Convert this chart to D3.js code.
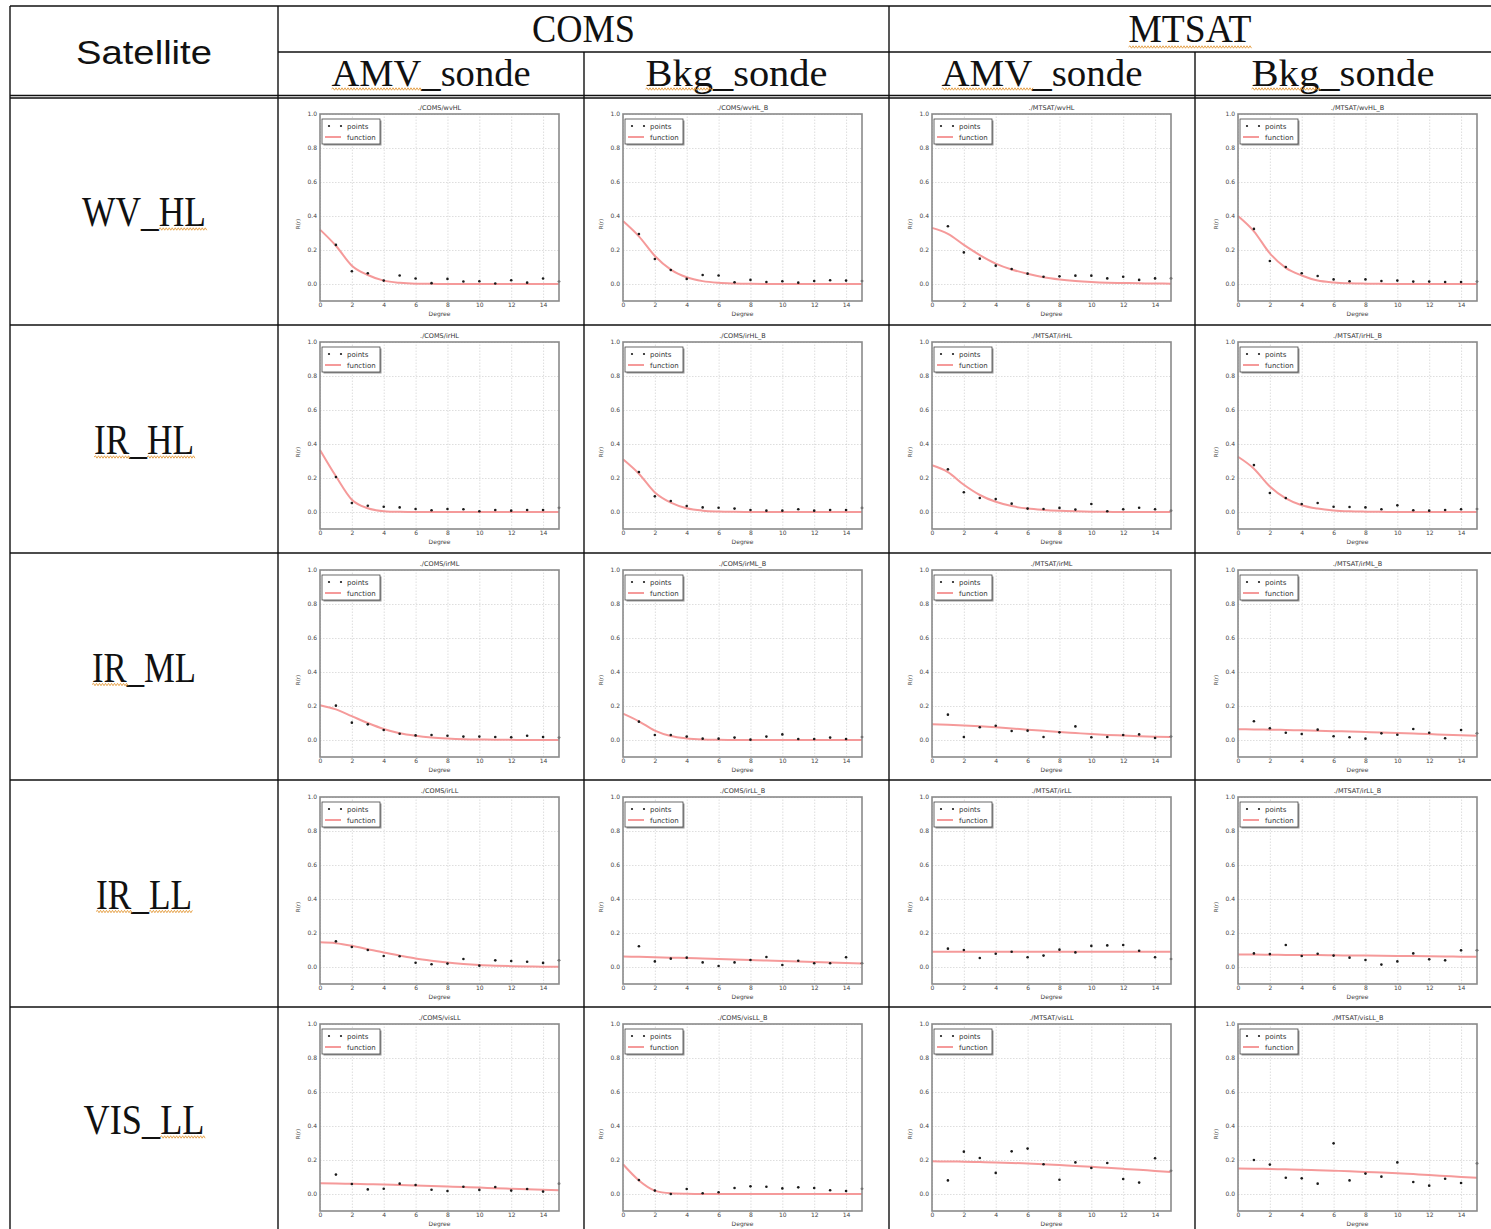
<!DOCTYPE html>
<html>
<head>
<meta charset="utf-8">
<script src="https://cdn.jsdelivr.net/npm/d3@7/dist/d3.min.js"></script>
<style>
  body { margin: 0; background: #fff; }
</style>
</head>
<body>
<div id="table-view"></div>
<script>
const WIDTH = 1491
const HEIGHT = 1229

const satellites = ["COMS", "MTSAT"]
const sources = ["AMV_sonde", "Bkg_sonde"]
const channels = ["WV_HL", "IR_HL", "IR_ML", "IR_LL", "VIS_LL"]
const xTicks = [0, 2, 4, 6, 8, 10, 12, 14]
const yTicks = [0.0, 0.2, 0.4, 0.6, 0.8, 1.0]
const pointDegrees = [1, 2, 3, 4, 5, 6, 7, 8, 9, 10, 11, 12, 13, 14, 15]
const fnDegrees = [0, 1, 2, 3, 4, 5, 6, 7, 8, 9, 10, 11, 12, 13, 14, 15]

// points (degree 1..15) and fitted function (degree 0..15)
const comsWvHL = [0.23, 0.075, 0.063, 0.02, 0.05, 0.032, 0.005, 0.03, 0.015, 0.016, 0.003, 0.022, 0.008, 0.032, 0.015]
const comsWvHLFn = [0.32, 0.225, 0.108, 0.053, 0.02, 0.007, 0.002, 0.001, 0, 0, 0, 0, 0, 0, 0, 0]
const comsWvHLB = [0.294, 0.147, 0.082, 0.03, 0.053, 0.05, 0.01, 0.024, 0.012, 0.016, 0.008, 0.018, 0.022, 0.02, 0.018]
const comsWvHLBFn = [0.37, 0.28, 0.165, 0.085, 0.04, 0.017, 0.007, 0.003, 0.001, 0, 0, 0, 0, 0, 0, 0]
const mtsatWvHL = [0.34, 0.186, 0.149, 0.108, 0.088, 0.061, 0.043, 0.045, 0.049, 0.049, 0.033, 0.043, 0.024, 0.033, 0.033]
const mtsatWvHLFn = [0.33, 0.295, 0.23, 0.17, 0.12, 0.085, 0.06, 0.04, 0.027, 0.018, 0.012, 0.008, 0.006, 0.004, 0.003, 0.002]
const mtsatWvHLB = [0.324, 0.135, 0.1, 0.063, 0.047, 0.027, 0.016, 0.027, 0.018, 0.02, 0.014, 0.014, 0.012, 0.012, 0.014]
const mtsatWvHLBFn = [0.40, 0.31, 0.18, 0.095, 0.05, 0.02, 0.009, 0.004, 0.002, 0.001, 0, 0, 0, 0, 0, 0]

const comsIrHL = [0.206, 0.053, 0.037, 0.031, 0.027, 0.018, 0.01, 0.018, 0.016, 0.004, 0.012, 0.008, 0.012, 0.012, 0.025]
const comsIrHLFn = [0.365, 0.21, 0.072, 0.022, 0.005, 0.001, 0, 0, 0, 0, 0, 0, 0, 0, 0, 0]
const comsIrHLB = [0.235, 0.092, 0.065, 0.035, 0.027, 0.025, 0.02, 0.012, 0.008, 0.008, 0.016, 0.008, 0.012, 0.012, 0.024]
const comsIrHLBFn = [0.31, 0.225, 0.115, 0.055, 0.022, 0.008, 0.003, 0.001, 0, 0, 0, 0, 0, 0, 0, 0]
const mtsatIrHL = [0.251, 0.116, 0.082, 0.076, 0.049, 0.02, 0.018, 0.024, 0.014, 0.047, 0.004, 0.016, 0.025, 0.016, 0.008]
const mtsatIrHLFn = [0.275, 0.235, 0.16, 0.1, 0.06, 0.035, 0.02, 0.012, 0.007, 0.004, 0.002, 0.001, 0, 0, 0, 0]
const mtsatIrHLB = [0.276, 0.112, 0.082, 0.047, 0.053, 0.031, 0.029, 0.027, 0.016, 0.039, 0.01, 0.008, 0.012, 0.016, 0.018]
const mtsatIrHLBFn = [0.325, 0.255, 0.15, 0.08, 0.04, 0.02, 0.009, 0.004, 0.002, 0.001, 0, 0, 0, 0, 0, 0]

const comsIrML = [0.202, 0.102, 0.092, 0.059, 0.037, 0.027, 0.029, 0.025, 0.02, 0.02, 0.018, 0.016, 0.025, 0.018, 0.014]
const comsIrMLFn = [0.205, 0.18, 0.14, 0.1, 0.065, 0.04, 0.025, 0.015, 0.009, 0.005, 0.003, 0.002, 0.001, 0, 0, 0]
const comsIrMLB = [0.108, 0.029, 0.029, 0.02, 0.008, 0.008, 0.014, 0.002, 0.02, 0.033, 0.006, 0.006, 0.014, 0.006, 0.018]
const comsIrMLBFn = [0.155, 0.11, 0.055, 0.023, 0.009, 0.003, 0.001, 0, 0, 0, 0, 0, 0, 0, 0, 0]
const mtsatIrML = [0.149, 0.018, 0.075, 0.084, 0.053, 0.055, 0.018, 0.045, 0.08, 0.016, 0.018, 0.029, 0.033, 0.012, 0.02]
const mtsatIrMLFn = [0.093, 0.09, 0.086, 0.081, 0.075, 0.068, 0.061, 0.054, 0.047, 0.041, 0.035, 0.03, 0.026, 0.022, 0.019, 0.017]
const mtsatIrMLB = [0.11, 0.069, 0.043, 0.035, 0.061, 0.022, 0.016, 0.008, 0.039, 0.031, 0.065, 0.043, 0.01, 0.059, 0.039]
const mtsatIrMLBFn = [0.063, 0.062, 0.061, 0.059, 0.057, 0.055, 0.052, 0.05, 0.047, 0.044, 0.041, 0.038, 0.035, 0.031, 0.028, 0.025]

const comsIrLL = [0.151, 0.118, 0.1, 0.065, 0.063, 0.025, 0.016, 0.02, 0.047, 0.008, 0.039, 0.035, 0.031, 0.024, 0.039]
const comsIrLLFn = [0.145, 0.14, 0.125, 0.105, 0.085, 0.067, 0.05, 0.037, 0.026, 0.018, 0.012, 0.008, 0.005, 0.003, 0.002, 0.001]
const comsIrLLB = [0.122, 0.033, 0.049, 0.055, 0.027, 0.006, 0.027, 0.041, 0.059, 0.012, 0.037, 0.022, 0.022, 0.057, 0.022]
const comsIrLLBFn = [0.062, 0.06, 0.058, 0.055, 0.053, 0.05, 0.047, 0.044, 0.041, 0.038, 0.035, 0.032, 0.029, 0.026, 0.023, 0.02]
const mtsatIrLL = [0.108, 0.1, 0.053, 0.078, 0.09, 0.057, 0.067, 0.102, 0.086, 0.124, 0.127, 0.129, 0.096, 0.057, 0.047]
const mtsatIrLLFn = [0.09, 0.09, 0.09, 0.09, 0.09, 0.09, 0.09, 0.09, 0.09, 0.09, 0.09, 0.09, 0.09, 0.09, 0.09, 0.09]
const mtsatIrLLB = [0.08, 0.076, 0.129, 0.065, 0.078, 0.067, 0.055, 0.041, 0.014, 0.033, 0.08, 0.045, 0.039, 0.098, 0.098]
const mtsatIrLLBFn = [0.073, 0.073, 0.072, 0.071, 0.07, 0.07, 0.069, 0.068, 0.067, 0.066, 0.065, 0.064, 0.063, 0.062, 0.061, 0.06]

const comsVisLL = [0.114, 0.059, 0.027, 0.031, 0.061, 0.053, 0.025, 0.018, 0.043, 0.024, 0.041, 0.02, 0.029, 0.014, 0.061]
const comsVisLLFn = [0.063, 0.062, 0.06, 0.058, 0.056, 0.053, 0.05, 0.047, 0.044, 0.041, 0.038, 0.034, 0.031, 0.028, 0.025, 0.022]
const comsVisLLB = [0.082, 0.02, 0.0, 0.029, 0.004, 0.01, 0.035, 0.045, 0.043, 0.033, 0.039, 0.035, 0.022, 0.018, 0.031]
const comsVisLLBFn = [0.175, 0.08, 0.02, 0.004, 0.001, 0, 0, 0, 0, 0, 0, 0, 0, 0, 0, 0]
const mtsatVisLL = [0.08, 0.249, 0.212, 0.124, 0.251, 0.267, 0.175, 0.084, 0.186, 0.153, 0.182, 0.088, 0.067, 0.21, 0.137]
const mtsatVisLLFn = [0.192, 0.191, 0.19, 0.188, 0.186, 0.183, 0.179, 0.175, 0.17, 0.165, 0.16, 0.154, 0.148, 0.142, 0.136, 0.13]
const mtsatVisLLB = [0.2, 0.173, 0.096, 0.092, 0.061, 0.298, 0.08, 0.12, 0.102, 0.186, 0.071, 0.049, 0.09, 0.065, 0.18]
const mtsatVisLLBFn = [0.15, 0.149, 0.147, 0.145, 0.143, 0.14, 0.137, 0.134, 0.13, 0.126, 0.122, 0.117, 0.112, 0.106, 0.1, 0.095]

const panelTitles = [
  ["./COMS/wvHL", "./COMS/wvHL_B", "./MTSAT/wvHL", "./MTSAT/wvHL_B"],
  ["./COMS/irHL", "./COMS/irHL_B", "./MTSAT/irHL", "./MTSAT/irHL_B"],
  ["./COMS/irML", "./COMS/irML_B", "./MTSAT/irML", "./MTSAT/irML_B"],
  ["./COMS/irLL", "./COMS/irLL_B", "./MTSAT/irLL", "./MTSAT/irLL_B"],
  ["./COMS/visLL", "./COMS/visLL_B", "./MTSAT/visLL", "./MTSAT/visLL_B"]
]
const panelPoints = [
  [comsWvHL, comsWvHLB, mtsatWvHL, mtsatWvHLB],
  [comsIrHL, comsIrHLB, mtsatIrHL, mtsatIrHLB],
  [comsIrML, comsIrMLB, mtsatIrML, mtsatIrMLB],
  [comsIrLL, comsIrLLB, mtsatIrLL, mtsatIrLLB],
  [comsVisLL, comsVisLLB, mtsatVisLL, mtsatVisLLB]
]
const panelFns = [
  [comsWvHLFn, comsWvHLBFn, mtsatWvHLFn, mtsatWvHLBFn],
  [comsIrHLFn, comsIrHLBFn, mtsatIrHLFn, mtsatIrHLBFn],
  [comsIrMLFn, comsIrMLBFn, mtsatIrMLFn, mtsatIrMLBFn],
  [comsIrLLFn, comsIrLLBFn, mtsatIrLLFn, mtsatIrLLBFn],
  [comsVisLLFn, comsVisLLBFn, mtsatVisLLFn, mtsatVisLLBFn]
]

// table grid
const TABLE_LEFT = 10
const TABLE_TOP = 6
const HEAD_MID = 52
const HEAD_BOTTOM = 97
const colEdges = [278, 584, 889, 1195, WIDTH]
const rowEdges = [HEAD_BOTTOM, 325, 553, 780, 1007, HEIGHT + 2]
const plotLefts = [320, 623, 932, 1238]
const PLOT_W = 239
const PLOT_H = 187
const PLOT_TOP = 17

const SERIF = "'Liberation Serif', 'DejaVu Serif', serif"
const SANS = "'DejaVu Sans', 'Liberation Sans', sans-serif"

const svg = d3.select("#table-view")
  .append("svg")
  .attr("width", WIDTH)
  .attr("height", HEIGHT)
  .style("display", "block")

// ---- table lines
const lines = svg.append("g").attr("stroke", "#111").attr("stroke-width", 1.4)
const hline = (y, x1, x2) => lines.append("line").attr("x1", x1).attr("x2", x2).attr("y1", y).attr("y2", y)
const vline = (x, y1, y2) => lines.append("line").attr("x1", x).attr("x2", x).attr("y1", y1).attr("y2", y2)

hline(TABLE_TOP, TABLE_LEFT, WIDTH)
hline(HEAD_MID, colEdges[0], WIDTH)
hline(HEAD_BOTTOM - 1.5, TABLE_LEFT, WIDTH)
hline(HEAD_BOTTOM + 1, TABLE_LEFT, WIDTH)
rowEdges.slice(1, -1).forEach(y => hline(y, TABLE_LEFT, WIDTH))
vline(TABLE_LEFT, TABLE_TOP, HEIGHT)
vline(colEdges[0], TABLE_TOP, HEIGHT)
vline(colEdges[2], TABLE_TOP, HEIGHT)
vline(colEdges[1], HEAD_MID, HEIGHT)
vline(colEdges[3], HEAD_MID, HEIGHT)

// ---- header and row labels
const squiggle = (x1, x2, y) => {
  let d = `M${x1},${y}`
  for (let x = x1, up = true; x < x2; x += 1.5, up = !up) d += `L${x + 1.5},${y + (up ? -1.2 : 1.2)}`
  svg.append("path").attr("d", d).attr("fill", "none")
    .attr("stroke", "#e39a3b").attr("stroke-width", 0.9)
}

const label = (txt, cx, baseline, size, len, family, marks, markDy) => {
  const t = svg.append("text")
    .attr("x", cx).attr("y", baseline)
    .attr("text-anchor", "middle")
    .attr("font-family", family)
    .attr("font-size", size)
    .attr("fill", "#111")
    .attr("textLength", len)
    .attr("lengthAdjust", "spacingAndGlyphs")
    .text(txt)
  const node = t.node()
  ;(marks || []).forEach(([a, b]) => {
    const x1 = node.getStartPositionOfChar(a).x
    const x2 = node.getEndPositionOfChar(b).x
    squiggle(x1, x2, baseline + (markDy || 4))
  })
}

label("Satellite", (TABLE_LEFT + colEdges[0]) / 2, 64, 34, 136, "'Liberation Sans', sans-serif")
label(satellites[0], (colEdges[0] + colEdges[2]) / 2, 42, 40, 103, SERIF)
label(satellites[1], (colEdges[2] + WIDTH) / 2, 42, 40, 123, SERIF, [[0, 4]], 5)
const srcLens = [199, 182, 201, 183]
const srcMarks = [[[0, 2]], [[0, 2]]]
for (let c = 0; c < 4; c++) {
  label(sources[c % 2], (colEdges[c] + colEdges[c + 1]) / 2, 86, 37, srcLens[c], SERIF, srcMarks[c % 2], 3)
}
const chanLens = [124, 100, 104, 96, 121]
const chanMarks = [[[3, 4]], [[0, 1], [3, 4]], [[0, 1]], [[0, 1], [3, 4]], [[4, 5]]]
channels.forEach((ch, r) => {
  const cy = (rowEdges[r] + rowEdges[r + 1]) / 2
  label(ch, (TABLE_LEFT + colEdges[0]) / 2, cy + 15, 43, chanLens[r], SERIF, chanMarks[r], 3)
})

// ---- small plots
const lineGen = (x, y) => d3.line()
  .x((d, i) => x(fnDegrees[i]))
  .y(d => y(d))
  .curve(d3.curveMonotoneX)

for (let r = 0; r < channels.length; r++) {
  for (let c = 0; c < 4; c++) {
    const left = plotLefts[c]
    const top = rowEdges[r] + PLOT_TOP
    const x = d3.scaleLinear().domain([0, 15]).range([0, PLOT_W])
    const y = d3.scaleLinear().domain([-0.1, 1.0]).range([PLOT_H, 0])

    const g = svg.append("g").attr("transform", `translate(${left},${top})`)

    // grid
    g.append("g")
      .call(d3.axisBottom(x).tickValues(xTicks).tickSize(-PLOT_H).tickFormat(""))
      .attr("transform", `translate(0,${PLOT_H})`)
      .call(a => a.select(".domain").remove())
      .call(a => a.selectAll("line").attr("stroke", "#c8c8c8").attr("stroke-width", 0.6).attr("stroke-dasharray", "1.5,1.5"))
    g.append("g")
      .call(d3.axisLeft(y).tickValues(yTicks).tickSize(-PLOT_W).tickFormat(""))
      .call(a => a.select(".domain").remove())
      .call(a => a.selectAll("line").attr("stroke", "#c8c8c8").attr("stroke-width", 0.6).attr("stroke-dasharray", "1.5,1.5"))

    // tick labels
    g.append("g")
      .attr("transform", `translate(0,${PLOT_H})`)
      .call(d3.axisBottom(x).tickValues(xTicks).tickSize(0).tickPadding(2))
      .call(a => a.select(".domain").remove())
      .call(a => a.selectAll("text").attr("font-family", SANS).attr("font-size", 6).attr("fill", "#444"))
    g.append("g")
      .call(d3.axisLeft(y).tickValues(yTicks).tickSize(0).tickPadding(3).tickFormat(d3.format(".1f")))
      .call(a => a.select(".domain").remove())
      .call(a => a.selectAll("text").attr("font-family", SANS).attr("font-size", 6).attr("fill", "#444"))

    // fitted function
    g.append("path")
      .datum(panelFns[r][c])
      .attr("d", lineGen(x, y))
      .attr("fill", "none")
      .attr("stroke", "#f59a9a")
      .attr("stroke-width", 2)

    // points
    g.append("g")
      .selectAll("circle")
      .data(panelPoints[r][c])
      .join("circle")
      .attr("cx", (d, i) => x(pointDegrees[i]))
      .attr("cy", d => y(d))
      .attr("r", 1.3)
      .attr("fill", "#1a1a1a")

    // frame
    g.append("rect")
      .attr("width", PLOT_W).attr("height", PLOT_H)
      .attr("fill", "none").attr("stroke", "#8a8a8a").attr("stroke-width", 1.6)

    // title and axis labels
    g.append("text")
      .attr("x", PLOT_W / 2).attr("y", -4)
      .attr("text-anchor", "middle")
      .attr("font-family", SANS).attr("font-size", 6.5).attr("fill", "#333")
      .text(panelTitles[r][c])
    g.append("text")
      .attr("x", PLOT_W / 2).attr("y", PLOT_H + 15)
      .attr("text-anchor", "middle")
      .attr("font-family", SANS).attr("font-size", 6).attr("fill", "#444")
      .text("Degree")
    g.append("text")
      .attr("transform", `translate(-20,${y(0.4) + 8}) rotate(-90)`)
      .attr("text-anchor", "middle")
      .attr("font-family", SANS).attr("font-size", 5.5).attr("fill", "#444")
      .text("R(r)")

    // legend
    const lg = g.append("g").attr("transform", "translate(2,5)")
    lg.append("rect").attr("x", 1.5).attr("y", 1.5).attr("width", 58).attr("height", 25).attr("fill", "#9a9a9a")
    lg.append("rect").attr("width", 58).attr("height", 25).attr("fill", "#fff").attr("stroke", "#444").attr("stroke-width", 0.8)
    lg.selectAll("circle.mk")
      .data([7, 19])
      .join("circle")
      .attr("class", "mk")
      .attr("cx", d => d).attr("cy", 7).attr("r", 1.1).attr("fill", "#1a1a1a")
    lg.append("line").attr("x1", 3).attr("x2", 19).attr("y1", 18).attr("y2", 18)
      .attr("stroke", "#f59a9a").attr("stroke-width", 2)
    lg.append("text").attr("x", 25).attr("y", 9.5)
      .attr("font-family", SANS).attr("font-size", 7).attr("fill", "#333").text("points")
    lg.append("text").attr("x", 25).attr("y", 20.5)
      .attr("font-family", SANS).attr("font-size", 7).attr("fill", "#333").text("function")
  }
}
</script>
</body>
</html>
